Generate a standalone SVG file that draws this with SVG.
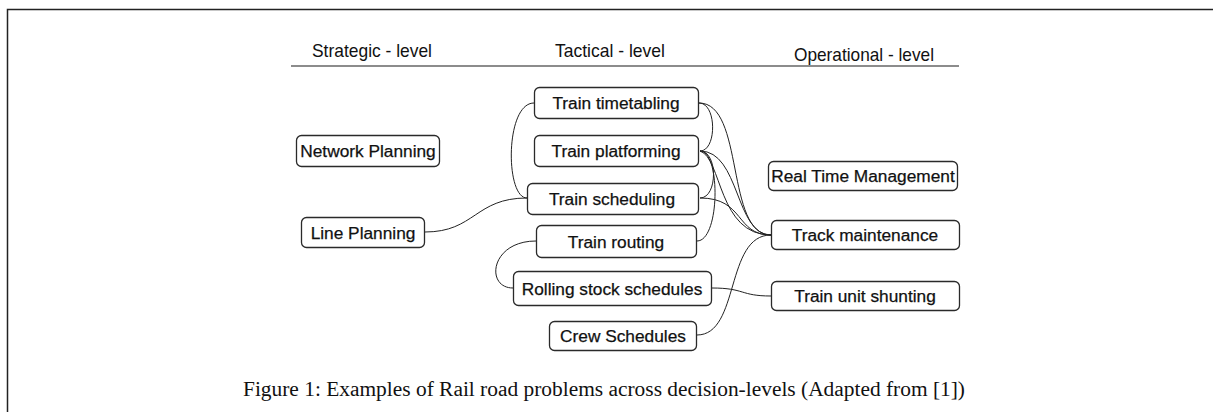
<svg xmlns="http://www.w3.org/2000/svg" width="1213" height="412" viewBox="0 0 1213 412">
  <style>
    .frame { stroke: #222; stroke-width: 1.5; fill: none; }
    .rule { stroke: #666; stroke-width: 1.6; fill: none; }
    .hdr { font-family: "Liberation Sans", Arial, sans-serif; font-size: 19px; fill: #111; }
    .box { fill: #fff; stroke: #2a2a2a; stroke-width: 1.3; }
    .lbl { font-family: "Liberation Sans", Arial, sans-serif; font-size: 17.3px; fill: #111; stroke: #111; stroke-width: 0.25; text-anchor: middle; }
    .edge { fill: none; stroke: #222; stroke-width: 1; }
    .cap { font-family: "Liberation Serif", "Times New Roman", serif; font-size: 20px; fill: #111; }
  </style>
  <rect width="1213" height="412" fill="#fff"/>

  <!-- page frame -->
  <path class="frame" d="M7.5,412 V9.5 H1213"/>

  <!-- column headings -->
  <g id="headings">
    <text class="hdr" x="312" y="57" textLength="120" lengthAdjust="spacingAndGlyphs">Strategic - level</text>
    <text class="hdr" x="555" y="57" textLength="110" lengthAdjust="spacingAndGlyphs">Tactical - level</text>
    <text class="hdr" x="794" y="61" textLength="140" lengthAdjust="spacingAndGlyphs">Operational - level</text>
    <line class="rule" x1="291" y1="66" x2="959" y2="66"/>
  </g>

  <!-- connectors -->
  <g id="connectors">
    <path class="edge" d="M425,232 C475,232 475,198 527,198"/>
    <path class="edge" d="M534,103 C505,103 505,198 527,198"/>
    <path class="edge" d="M536,241 C490,241 485,288 513,288"/>
    <path class="edge" d="M699,103 C717,103 717,151 700,151"/>
    <path class="edge" d="M700,151 C718,151 718,198 700,198"/>
    <path class="edge" d="M700,151 C721,151 720,241 697,241"/>
    <path class="edge" d="M699,103 C745,103 725,235 771,235"/>
    <path class="edge" d="M700,151 C740,151 735,235 771,235"/>
    <path class="edge" d="M700,151 C722,158 718,235 771,235"/>
    <path class="edge" d="M700,198 C745,198 735,235 771,235"/>
    <path class="edge" d="M697,335 C740,335 725,235 771,235"/>
    <path class="edge" d="M712,288 C745,288 740,296 771,296"/>
  </g>

  <!-- strategic level -->
  <g id="network-planning">
    <rect class="box" x="296.5" y="135.5" width="143" height="31" rx="5"/>
    <text class="lbl" x="368" y="157">Network Planning</text>
  </g>
  <g id="line-planning">
    <rect class="box" x="301.5" y="217.5" width="123" height="30" rx="5"/>
    <text class="lbl" x="363" y="238.5">Line Planning</text>
  </g>

  <!-- tactical level -->
  <g id="train-timetabling">
    <rect class="box" x="534.5" y="87.5" width="164" height="31" rx="5"/>
    <text class="lbl" x="616" y="109">Train timetabling</text>
  </g>
  <g id="train-platforming">
    <rect class="box" x="534.5" y="135.5" width="164" height="31" rx="5"/>
    <text class="lbl" x="616" y="157">Train platforming</text>
  </g>
  <g id="train-scheduling">
    <rect class="box" x="527.5" y="183.5" width="171" height="31" rx="5"/>
    <text class="lbl" x="612" y="205">Train scheduling</text>
  </g>
  <g id="train-routing">
    <rect class="box" x="536.5" y="225.5" width="160" height="32" rx="5"/>
    <text class="lbl" x="616" y="248">Train routing</text>
  </g>
  <g id="rolling-stock-schedules">
    <rect class="box" x="513.5" y="271.5" width="198" height="34" rx="5"/>
    <text class="lbl" x="612" y="294.5">Rolling stock schedules</text>
  </g>
  <g id="crew-schedules">
    <rect class="box" x="549.5" y="321.5" width="147" height="29" rx="5"/>
    <text class="lbl" x="623" y="342">Crew Schedules</text>
  </g>

  <!-- operational level -->
  <g id="real-time-management">
    <rect class="box" x="768.5" y="161.5" width="189" height="29" rx="5"/>
    <text class="lbl" x="863" y="182">Real Time Management</text>
  </g>
  <g id="track-maintenance">
    <rect class="box" x="771.5" y="220.5" width="188" height="29" rx="5"/>
    <text class="lbl" x="865" y="241">Track maintenance</text>
  </g>
  <g id="train-unit-shunting">
    <rect class="box" x="771.5" y="281.5" width="188" height="29" rx="5"/>
    <text class="lbl" x="865" y="302">Train unit shunting</text>
  </g>

  <!-- caption -->
  <text class="cap" x="243" y="396" textLength="722" lengthAdjust="spacingAndGlyphs">Figure 1: Examples of Rail road problems across decision-levels (Adapted from [1])</text>
</svg>
